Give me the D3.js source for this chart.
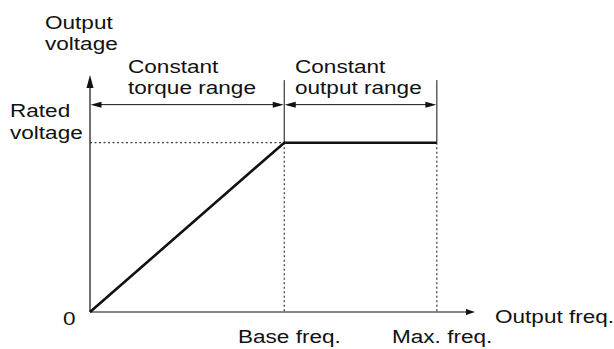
<!DOCTYPE html>
<html>
<head>
<meta charset="utf-8">
<script src="https://cdn.jsdelivr.net/npm/d3@7"></script>
<style>
  html, body { margin: 0; padding: 0; background: #fff; }
  svg { display: block; }
  text { font-family: "Liberation Sans", Arial, Helvetica, sans-serif; fill: #111; }
</style>
</head>
<body>
<svg id="chart" width="614" height="349"></svg>
<script>
// V/f characteristic: output voltage vs output frequency (percent of max frequency / rated voltage)
const freqPoints = [0, 56, 100];          // origin, base frequency, max frequency
const voltagePoints = [0, 100, 100];      // output voltage, % of rated
const baseFreq = 56;
const maxFreq = 100;
const ratedVoltage = 100;
const freqAxisEnd = 111;
const voltAxisEnd = 140;
const rangeLevel = 122.5;                 // height of the range arrows
const markerTop = 137;                    // top of the vertical range markers
const rangeLabels = [
  ["Constant", "torque range"],
  ["Constant", "output range"]
];
const xTickLabels = ["Base freq.", "Max. freq."];

const svg = d3.select("#chart");
const x = d3.scaleLinear().domain([0, freqAxisEnd]).range([90, 475]);
const y = d3.scaleLinear().domain([0, voltAxisEnd]).range([312, 75]);

const ink = "#111";

// text drawn wide, like the original typesetting
function label(str, px, py, anchor) {
  svg.append("g")
    .attr("transform", `translate(${px},${py}) scale(1.22,1)`)
    .append("text")
    .attr("font-size", 18.5)
    .attr("text-anchor", anchor || "start")
    .text(str);
}

function arrowHead(tipX, tipY, dir, len, half) {
  // dir: "left" | "right" | "up"
  let pts;
  if (dir === "right") pts = [[tipX, tipY], [tipX - len, tipY - half], [tipX - len, tipY + half]];
  else if (dir === "left") pts = [[tipX, tipY], [tipX + len, tipY - half], [tipX + len, tipY + half]];
  else pts = [[tipX, tipY], [tipX - half, tipY + len], [tipX + half, tipY + len]];
  svg.append("path").attr("d", d3.line()(pts) + "Z").attr("fill", ink);
}

// axes
svg.append("line")
  .attr("x1", x(0)).attr("x2", x(0))
  .attr("y1", y(0)).attr("y2", y(voltAxisEnd) + 4)
  .attr("stroke", ink).attr("stroke-width", 1.2);
arrowHead(x(0), y(voltAxisEnd), "up", 13, 3.5);

svg.append("line")
  .attr("x1", x(0)).attr("x2", x(freqAxisEnd) - 4)
  .attr("y1", y(0)).attr("y2", y(0))
  .attr("stroke", ink).attr("stroke-width", 1.2);
arrowHead(x(freqAxisEnd), y(0), "right", 9, 3);

// rated voltage guide
svg.append("line")
  .attr("x1", x(0)).attr("x2", x(baseFreq))
  .attr("y1", y(ratedVoltage)).attr("y2", y(ratedVoltage))
  .attr("stroke", ink).attr("stroke-width", 1)
  .attr("stroke-dasharray", "2,2.5");

// vertical markers at base and max frequency: solid above, dotted below
[baseFreq, maxFreq].forEach(f => {
  svg.append("line")
    .attr("x1", x(f)).attr("x2", x(f))
    .attr("y1", y(markerTop)).attr("y2", y(ratedVoltage))
    .attr("stroke", ink).attr("stroke-width", 1);
  svg.append("line")
    .attr("x1", x(f)).attr("x2", x(f))
    .attr("y1", y(ratedVoltage)).attr("y2", y(0))
    .attr("stroke", ink).attr("stroke-width", 1)
    .attr("stroke-dasharray", "2,2.5");
});

// range arrows
[[0, baseFreq], [baseFreq, maxFreq]].forEach(([a, b]) => {
  svg.append("line")
    .attr("x1", x(a) + 4).attr("x2", x(b) - 4)
    .attr("y1", y(rangeLevel)).attr("y2", y(rangeLevel))
    .attr("stroke", ink).attr("stroke-width", 1);
  arrowHead(x(a) + 0.5, y(rangeLevel), "left", 11, 3);
  arrowHead(x(b) - 0.5, y(rangeLevel), "right", 11, 3);
});

// V/f characteristic
svg.append("path")
  .datum(freqPoints.map((f, i) => [f, voltagePoints[i]]))
  .attr("d", d3.line().x(d => x(d[0])).y(d => y(d[1])))
  .attr("fill", "none")
  .attr("stroke", ink)
  .attr("stroke-width", 2.6)
  .attr("stroke-linejoin", "miter");

// labels
label("Output", 45, 28.5);
label("voltage", 45, 50);
label("Rated", 10, 117);
label("voltage", 10, 138.5);
label("0", 63, 325);
label(rangeLabels[0][0], 128, 72.5);
label(rangeLabels[0][1], 128, 94);
label(rangeLabels[1][0], 295, 72.5);
label(rangeLabels[1][1], 295, 94);
label(xTickLabels[0], 238, 343);
label(xTickLabels[1], 392, 343);
label("Output freq.", 495, 323);
</script>
</body>
</html>
